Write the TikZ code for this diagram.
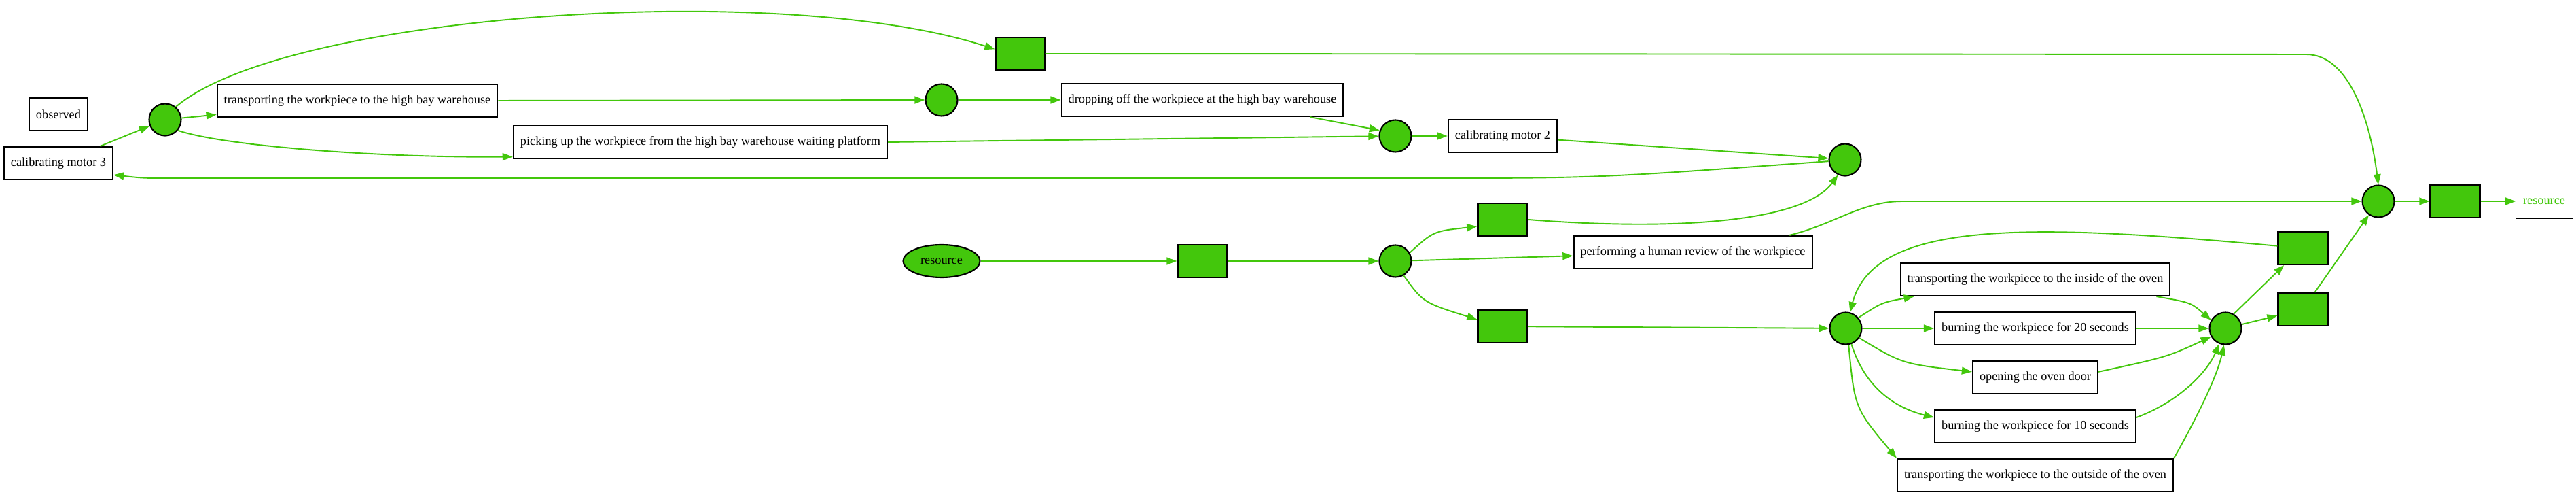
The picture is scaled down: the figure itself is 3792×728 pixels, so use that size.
\documentclass[tikz,border=0pt]{standalone}
\usepackage{fontspec}
\setmainfont{Liberation Serif}
\usetikzlibrary{arrows.meta}
\usetikzlibrary{shapes.geometric}

\definecolor{petrigreen}{RGB}{67,199,12}
\newcommand{\netfont}{\fontsize{5.2}{6}\selectfont}

\tikzset{
    placenode/.style={
        circle, draw=black, line width=0.6pt,
        fill=petrigreen, minimum size=0.47cm, inner sep=0pt,
    },
    transnode/.style={
        rectangle, draw=black, line width=0.6pt,
        fill=petrigreen, minimum width=0.73cm, minimum height=0.48cm, inner sep=0pt,
    },
    tasknode/.style={
        rectangle, draw=black, line width=0.6pt, fill=white,
        minimum height=0.48cm, inner xsep=0.1cm, inner ysep=0pt,
        font=\netfont,
    },
    flow/.style={
        draw=petrigreen, line width=0.55pt,
        -{Triangle[length=4.3pt,width=3.1pt]},
    },
}

\begin{document}
\begin{tikzpicture}[x=0.01cm, y=-0.01cm]
        \useasboundingbox (0,0) rectangle (3792,728);

        % upper row
        \node (observed) at(86,168) [tasknode] {observed};
        \node (motorthree) at(86,240) [tasknode] {calibrating motor 3};
        \node (pone) at(243,176) [placenode] {};
        \node (tohbw) at(526,148) [tasknode] {transporting the workpiece to the high bay warehouse};
        \node (pickup) at(1031,209) [tasknode] {picking up the workpiece from the high bay warehouse waiting platform};
        \node (tone) at(1502,79) [transnode] {};
        \node (ptwo) at(1386,147) [placenode] {};
        \node (dropoff) at(1770,147) [tasknode] {dropping off the workpiece at the high bay warehouse};
        \node (pthree) at(2054,200) [placenode] {};
        \node (motortwo) at(2212,200) [tasknode] {calibrating motor 2};
        \node (pfour) at(2716,235) [placenode] {};

        % middle row
        \node (source) at(1386,384) [
            ellipse, draw=black, line width=0.6pt, fill=petrigreen,
            minimum width=1.13cm, minimum height=0.48cm, inner sep=0pt,
            font=\netfont,
        ] {resource};
        \node (tstart) at(1770,384) [transnode] {};
        \node (pfive) at(2054,384) [placenode] {};
        \node (ttwo) at(2212,323) [transnode] {};
        \node (review) at(2492,371) [tasknode] {performing a human review of the workpiece};
        \node (tthree) at(2212,480) [transnode] {};

        % oven
        \node (psix) at(2717,483) [placenode] {};
        \node (ovenin) at(2996,411) [tasknode] {transporting the workpiece to the inside of the oven};
        \node (burntwenty) at(2996,483) [tasknode] {burning the workpiece for 20 seconds};
        \node (opendoor) at(2996,555) [tasknode] {opening the oven door};
        \node (burnten) at(2996,627) [tasknode] {burning the workpiece for 10 seconds};
        \node (ovenout) at(2996,699) [tasknode] {transporting the workpiece to the outside of the oven};
        \node (pseven) at(3276,483) [placenode] {};
        \node (tfour) at(3390,365) [transnode] {};
        \node (tfive) at(3390,455) [transnode] {};

        % end
        \node (peight) at(3501,296) [placenode] {};
        \node (tsix) at(3614,296) [transnode] {};
        \node (sink) at(3745,296) [
            rectangle, minimum width=0.82cm, minimum height=0.48cm, inner sep=0pt,
            text=petrigreen, font=\netfont,
        ] {resource};
        \draw[black, line width=0.6pt] (sink.south west) -- (sink.south east);

        \draw[flow] (motorthree) -- (pone);
        \draw[flow] (pone) -- (tohbw);
        \draw[flow] (pone.50) .. controls (420,20) and (1150,-30) .. (tone.170);
        \draw[flow] (pone.-40) .. controls (330,215) and (560,232) .. ([yshift=1pt]pickup.south west);
        \draw[flow] (tohbw.east) -- (ptwo);
        \draw[flow] (ptwo) -- (dropoff);
        \draw[flow] (dropoff.-9.6) -- (pthree.160);
        \draw[flow] (pickup.east) -- (pthree);
        \draw[flow] (pthree) -- (motortwo);
        \draw[flow] (motortwo.-4) -- (pfour.175);
        \draw[flow] (pfour.185) .. controls (2350,262) .. (2100,262) -- (250,262) .. controls (210,262) .. (motorthree.-12);
        \draw[flow] (tone.east) -- (3395,80) .. controls (3455,80) and (3488,170) .. (peight.north);

        \draw[flow] (source) -- (tstart);
        \draw[flow] (tstart) -- (pfive);
        \draw[flow] (pfive.30) .. controls (2110,340) .. (ttwo.195);
        \draw[flow] (pfive) -- (review);
        \draw[flow] (pfive.-60) .. controls (2095,445) .. (tthree.165);
        \draw[flow] (ttwo.east) .. controls (2500,342) and (2660,320) .. (pfour.-115);
        \draw[flow] (review.10) .. controls (2700,330) and (2740,296) .. (2800,296) -- (peight);
        \draw[flow] (tthree) -- (psix);

        \draw[flow] (psix.40) .. controls (2770,445) .. (ovenin.188);
        \draw[flow] (psix) -- (burntwenty);
        \draw[flow] (psix.-35) .. controls (2800,535) .. (opendoor.175);
        \draw[flow] (psix.-70) .. controls (2745,570) and (2790,600) .. (burnten.175);
        \draw[flow] (psix.-80) .. controls (2730,600) .. (ovenout.173);
        \draw[flow] (ovenin.-8) .. controls (3225,445) .. (pseven.150);
        \draw[flow] (burntwenty) -- (pseven);
        \draw[flow] (opendoor.5) .. controls (3190,525) .. (pseven.-150);
        \draw[flow] (burnten.5) .. controls (3210,590) and (3250,545) .. (pseven.-112);
        \draw[flow] (ovenout.7.5) .. controls (3225,630) and (3262,560) .. (pseven.-95);
        \draw[flow] (pseven.60) -- (tfour.-138);
        \draw[flow] (pseven) -- (tfive);
        \draw[flow] (tfour.175) .. controls (3000,330) and (2760,320) .. (psix.75);
        \draw[flow] (tfive) -- (peight);
        \draw[flow] (peight) -- (tsix);
        \draw[flow] (tsix) -- (sink);
    \end{tikzpicture}
\end{document}
